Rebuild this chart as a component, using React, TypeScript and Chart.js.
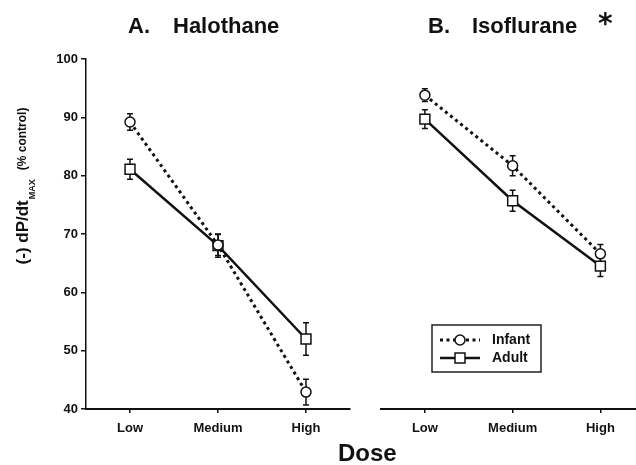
import React, { useEffect, useRef } from "react";
import { Chart, registerables } from "chart.js";

Chart.register(...registerables);

const FONT = "'Liberation Sans', Arial, Helvetica, sans-serif";
Chart.defaults.font.family = FONT;
Chart.defaults.color = "#111";

if (typeof document !== "undefined") {
  document.body.style.margin = "0";
  document.body.style.overflow = "hidden";
}

// ---- data ----
const doseLabels = ["Low", "Medium", "High"];
const doseIndex = [0, 1, 2];
const yTicks = [40, 50, 60, 70, 80, 90, 100];
const seriesNames = ["Infant", "Adult"];

const halothaneInfant = [89.2, 68.1, 42.9];
const halothaneInfantErr = [1.4, 1.8, 2.2];
const halothaneAdult = [81.1, 68.0, 52.0];
const halothaneAdultErr = [1.7, 2.0, 2.8];

const isofluraneInfant = [93.8, 81.7, 66.6];
const isofluraneInfantErr = [1.1, 1.7, 1.6];
const isofluraneAdult = [89.7, 75.7, 64.5];
const isofluraneAdultErr = [1.6, 1.8, 1.8];

const panelLetters = ["A.", "B."];
const panelNames = ["Halothane", "Isoflurane"];
const xAxisTitle = "Dose";
const yTitleMain = "(-) dP/dt";
const yTitleSub = "MAX";
const yTitleUnit = "(% control)";

const INK = "#111";
const INFANT_DASH = [3, 3.5];

// ---- plugins ----
const errorBarPlugin = {
  id: "errorBars",
  beforeDatasetsDraw(chart: any) {
    const ctx = chart.ctx;
    const xs = chart.scales.x;
    const ys = chart.scales.y;
    chart.data.datasets.forEach((ds: any) => {
      const errs = ds.errors;
      if (!errs) return;
      ds.data.forEach((p: any, j: number) => {
        const x = xs.getPixelForValue(p.x);
        const yTop = ys.getPixelForValue(p.y + errs[j]);
        const yBot = ys.getPixelForValue(p.y - errs[j]);
        ctx.save();
        ctx.strokeStyle = INK;
        ctx.lineWidth = 1.5;
        ctx.setLineDash([]);
        ctx.beginPath();
        ctx.moveTo(x, yTop);
        ctx.lineTo(x, yBot);
        ctx.moveTo(x - 3, yTop);
        ctx.lineTo(x + 3, yTop);
        ctx.moveTo(x - 3, yBot);
        ctx.lineTo(x + 3, yBot);
        ctx.stroke();
        ctx.restore();
      });
    });
  },
};

const panelTitlePlugin = {
  id: "panelTitle",
  afterDraw(chart: any, _args: any, opts: any) {
    if (!opts || !opts.letter) return;
    const ctx = chart.ctx;
    ctx.save();
    ctx.fillStyle = INK;
    ctx.textBaseline = "alphabetic";
    ctx.textAlign = "left";
    ctx.font = `bold 22px ${FONT}`;
    ctx.fillText(opts.letter, opts.letterX, opts.baseline);
    ctx.fillText(opts.name, opts.nameX, opts.baseline);
    if (opts.star) {
      ctx.font = `bold 28px 'DejaVu Sans', sans-serif`;
      ctx.fillText("*", opts.starX, opts.baseline);
    }
    ctx.restore();
  },
};

const yTitlePlugin = {
  id: "yTitle",
  afterDraw(chart: any, _args: any, opts: any) {
    if (!opts || !opts.show) return;
    const ctx = chart.ctx;
    ctx.save();
    ctx.fillStyle = INK;
    ctx.textAlign = "left";
    ctx.textBaseline = "alphabetic";
    const fMain = `bold 17px ${FONT}`;
    const fSub = `bold 9px ${FONT}`;
    const fUnit = `bold 12px ${FONT}`;
    ctx.font = fMain;
    const wMain = ctx.measureText(yTitleMain).width;
    ctx.font = fSub;
    const wSub = ctx.measureText(yTitleSub).width;
    ctx.font = fUnit;
    const wUnit = ctx.measureText(yTitleUnit).width;
    const gap = 9;
    const total = wMain + 1 + wSub + gap + wUnit;
    ctx.translate(opts.cx, opts.cy);
    ctx.rotate(-Math.PI / 2);
    let x = -total / 2;
    ctx.font = fMain;
    ctx.fillText(yTitleMain, x, 0);
    x += wMain + 1;
    ctx.font = fSub;
    ctx.fillText(yTitleSub, x, 7);
    x += wSub + gap;
    ctx.font = fUnit;
    ctx.fillText(yTitleUnit, x, -2);
    ctx.restore();
  },
};

const legendPlugin = {
  id: "boxLegend",
  afterDraw(chart: any, _args: any, opts: any) {
    if (!opts || !opts.show) return;
    const ctx = chart.ctx;
    const { left, top, width, height, rowY, lineX0, lineX1, textX } = opts;
    ctx.save();
    ctx.strokeStyle = "#222";
    ctx.lineWidth = 1.5;
    ctx.strokeRect(left, top, width, height);
    chart.data.datasets.forEach((ds: any, i: number) => {
      const y = top + rowY[i];
      ctx.save();
      ctx.strokeStyle = INK;
      ctx.lineWidth = ds.borderWidth;
      ctx.setLineDash(ds.borderDash || []);
      ctx.beginPath();
      ctx.moveTo(left + lineX0, y);
      ctx.lineTo(left + lineX1, y);
      ctx.stroke();
      ctx.setLineDash([]);
      const mx = left + (lineX0 + lineX1) / 2;
      ctx.fillStyle = "#fff";
      ctx.lineWidth = 1.5;
      ctx.beginPath();
      if (ds.pointStyle === "rect") {
        ctx.rect(mx - 5, y - 5, 10, 10);
      } else {
        ctx.arc(mx, y, 5, 0, Math.PI * 2);
      }
      ctx.fill();
      ctx.stroke();
      ctx.restore();
      ctx.fillStyle = INK;
      ctx.font = `bold 14px ${FONT}`;
      ctx.textBaseline = "middle";
      ctx.fillText(ds.label, left + textX, y);
    });
    ctx.restore();
  },
};

function makeDatasets(infant: number[], infantErr: number[], adult: number[], adultErr: number[]) {
  return [
    {
      label: seriesNames[0],
      data: doseIndex.map((x, i) => ({ x, y: infant[i] })),
      errors: infantErr,
      borderColor: INK,
      borderWidth: 3,
      borderDash: INFANT_DASH,
      pointStyle: "circle",
      pointRadius: 5,
      pointBorderWidth: 1.5,
      pointBackgroundColor: "#fff",
      pointBorderColor: INK,
      tension: 0,
    },
    {
      label: seriesNames[1],
      data: doseIndex.map((x, i) => ({ x, y: adult[i] })),
      errors: adultErr,
      borderColor: INK,
      borderWidth: 2.5,
      pointStyle: "rect",
      pointRadius: 7,
      pointBorderWidth: 1.5,
      pointBackgroundColor: "#fff",
      pointBorderColor: INK,
      tension: 0,
    },
  ];
}

function makeConfig(panel: number): any {
  const left = panel === 0;
  const datasets = left
    ? makeDatasets(halothaneInfant, halothaneInfantErr, halothaneAdult, halothaneAdultErr)
    : makeDatasets(isofluraneInfant, isofluraneInfantErr, isofluraneAdult, isofluraneAdultErr);
  return {
    type: "line",
    data: { datasets },
    plugins: [errorBarPlugin, panelTitlePlugin, yTitlePlugin, legendPlugin],
    options: {
      responsive: false,
      animation: false,
      devicePixelRatio: 1,
      layout: {
        padding: left
          ? { left: 0, right: 10, top: 51, bottom: 0 }
          : { left: 21, right: 0, top: 51, bottom: 0 },
      },
      scales: {
        x: {
          type: "linear",
          min: -0.5,
          max: left ? 2.5 : 2.4,
          afterBuildTicks: (s: any) => {
            s.ticks = doseIndex.map((v) => ({ value: v }));
          },
          afterFit: (s: any) => {
            s.height = 48;
          },
          ticks: {
            callback: (_v: any, i: number) => doseLabels[i],
            font: { size: 13, weight: "bold", family: FONT },
            color: INK,
            padding: 8,
            maxRotation: 0,
            autoSkip: false,
          },
          grid: {
            drawOnChartArea: false,
            drawTicks: true,
            tickLength: 4,
            color: INK,
            lineWidth: 1.5,
          },
          border: { display: true, color: INK, width: 2 },
        },
        y: {
          type: "linear",
          display: left,
          min: 40,
          max: 100,
          afterBuildTicks: (s: any) => {
            s.ticks = yTicks.map((v) => ({ value: v }));
          },
          afterFit: (s: any) => {
            if (left) s.width = 78;
          },
          ticks: {
            font: { size: 13, weight: "bold", family: FONT },
            color: INK,
            padding: 3,
          },
          grid: {
            drawOnChartArea: false,
            drawTicks: true,
            tickLength: 5,
            color: INK,
            lineWidth: 1.5,
          },
          border: { display: true, color: INK, width: 1.5 },
        },
      },
      plugins: {
        legend: { display: false },
        tooltip: { enabled: false },
        title: { display: false },
        panelTitle: left
          ? { letter: panelLetters[0], name: panelNames[0], letterX: 120, nameX: 165, baseline: 25, star: false }
          : { letter: panelLetters[1], name: panelNames[1], letterX: 68, nameX: 112, baseline: 25, star: true, starX: 238 },
        yTitle: { show: left, cx: 20, cy: 178 },
        boxLegend: {
          show: !left,
          left: 72,
          top: 317,
          width: 109,
          height: 47,
          rowY: [15, 33],
          lineX0: 8,
          lineX1: 48,
          textX: 60,
        },
      },
    },
  };
}

function Panel({ panel, left, width }: { panel: number; left: number; width: number }) {
  const ref = useRef<HTMLCanvasElement>(null);
  useEffect(() => {
    const chart = new Chart(ref.current as HTMLCanvasElement, makeConfig(panel));
    return () => chart.destroy();
  }, [panel]);
  return (
    <canvas
      ref={ref}
      width={width}
      height={449}
      style={{ position: "absolute", left, top: 8, width, height: 449, display: "block" }}
    />
  );
}

export default function App() {
  return (
    <div style={{ position: "relative", width: 636, height: 465, background: "#fff", overflow: "hidden" }}>
      <Panel panel={0} left={8} width={352} />
      <Panel panel={1} left={360} width={284} />
      <div
        style={{
          position: "absolute",
          left: 338,
          top: 452,
          height: 1,
          fontFamily: FONT,
          fontWeight: "bold",
          fontSize: 24,
          lineHeight: "1px",
          color: INK,
          whiteSpace: "nowrap",
        }}
      >
        {xAxisTitle}
      </div>
    </div>
  );
}
